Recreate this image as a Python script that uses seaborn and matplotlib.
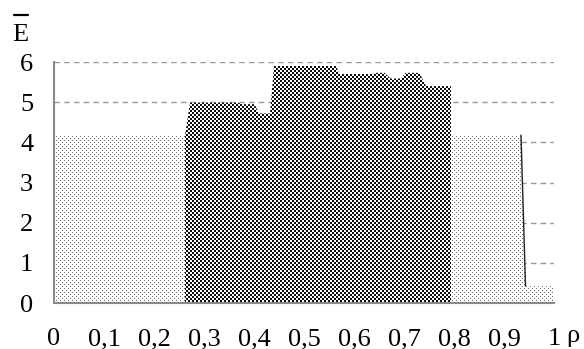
import numpy as np
import matplotlib
matplotlib.use("Agg")
import matplotlib.pyplot as plt
from matplotlib.lines import Line2D
import seaborn as sns

# Background (light, dotted) profile: E over rho
rho_light = [0.0, 0.934, 0.943, 1.0]
e_light = [4.18, 4.18, 0.42, 0.42]

# Foreground (dark, checkered) profile
rho_dark = [0.262, 0.272, 0.368, 0.375, 0.401, 0.410, 0.432, 0.440,
            0.564, 0.571, 0.636, 0.645, 0.661, 0.673, 0.694, 0.703,
            0.731, 0.744, 0.794]
e_dark = [4.18, 4.99, 4.99, 4.95, 4.95, 4.72, 4.72, 5.90,
          5.90, 5.70, 5.70, 5.73, 5.73, 5.59, 5.59, 5.73,
          5.73, 5.40, 5.40]

x_ticks = [0, 0.1, 0.2, 0.3, 0.4, 0.5, 0.6, 0.7, 0.8, 0.9, 1.0]
x_labels = ["0", "0,1", "0,2", "0,3", "0,4", "0,5", "0,6", "0,7", "0,8", "0,9", "1"]
y_ticks = [0, 1, 2, 3, 4, 5, 6]
y_labels = ["0", "1", "2", "3", "4", "5", "6"]

sns.set_theme(style="white")
plt.rcParams["font.family"] = ["Liberation Serif", "DejaVu Serif"]

FS = 19
W_PX, H_PX = 584, 349
fig = plt.figure(figsize=(W_PX / 100, H_PX / 100), dpi=100, facecolor="white")
ax_w, ax_h = 500, 241
ax = fig.add_axes([54 / W_PX, 46 / H_PX, ax_w / W_PX, ax_h / H_PX])
ax.set_facecolor("white")

grey = "#8a8a8a"

# Pixel textures for the two fills
ii, jj = np.mgrid[0:ax_h, 0:ax_w]
dots = ((ii % 4 == 0) & (jj % 4 == 0)) | ((ii % 4 == 2) & (jj % 4 == 2))
light_tex = np.ones((ax_h, ax_w, 3))
light_tex[dots] = np.array([0.42, 0.42, 0.42])
checker = ((ii // 2 + jj // 2) % 2) == 0
dark_tex = np.ones((ax_h, ax_w, 3))
dark_tex[checker] = np.array([0.05, 0.05, 0.05])

ext = [0, 1, 0, 6]

poly_l = ax.fill_between(rho_light, 0, e_light, facecolor="none",
                         edgecolor="none", zorder=2)
im_l = ax.imshow(light_tex, extent=ext, aspect="auto",
                 interpolation="nearest", zorder=2)
im_l.set_clip_path(poly_l.get_paths()[0], transform=ax.transData)

# Dark slanted edge where the light profile drops
sns.lineplot(x=rho_light[1:3], y=e_light[1:3], ax=ax, color="#222222",
             lw=1.0, zorder=3)

poly_d = ax.fill_between(rho_dark, 0, e_dark, facecolor="none",
                         edgecolor="none", zorder=4)
im_d = ax.imshow(dark_tex, extent=ext, aspect="auto",
                 interpolation="nearest", zorder=4)
im_d.set_clip_path(poly_d.get_paths()[0], transform=ax.transData)

ax.set_xlim(0, 1)
ax.set_ylim(0, 6)

# Dashed horizontal grid
for y in y_ticks[1:]:
    ax.axhline(y, color="#9a9a9a", lw=1.0, ls=(0, (4, 3)), zorder=1)

ax.set_xticks(x_ticks)
ax.set_xticklabels(x_labels)
ax.set_yticks(y_ticks)
ax.set_yticklabels(y_labels)
ax.tick_params(axis="both", which="major", direction="out", length=7,
               width=1.5, color=grey, labelsize=FS, labelcolor="black")
ax.tick_params(axis="y", pad=8)
ax.tick_params(axis="x", pad=11)
for s in ["top", "right"]:
    ax.spines[s].set_visible(False)
for s in ["left", "bottom"]:
    ax.spines[s].set_color(grey)
    ax.spines[s].set_linewidth(1.5)
    ax.spines[s].set_zorder(5)
ax.grid(False)

# Axis names: E with overbar, and rho after the last x tick
fig.text(20.5 / W_PX, 1 - 35 / H_PX, "E", fontsize=FS, ha="center",
         va="center", color="black")
fig.add_artist(Line2D([13.5 / W_PX, 27.5 / W_PX],
                      [1 - 14.5 / H_PX, 1 - 14.5 / H_PX],
                      transform=fig.transFigure, color="black", lw=1.6))
fig.text(573 / W_PX, 1 - 336 / H_PX, "ρ", fontsize=FS, ha="center",
         va="center", color="black")

fig.savefig("out.png", dpi=100, facecolor="white")
